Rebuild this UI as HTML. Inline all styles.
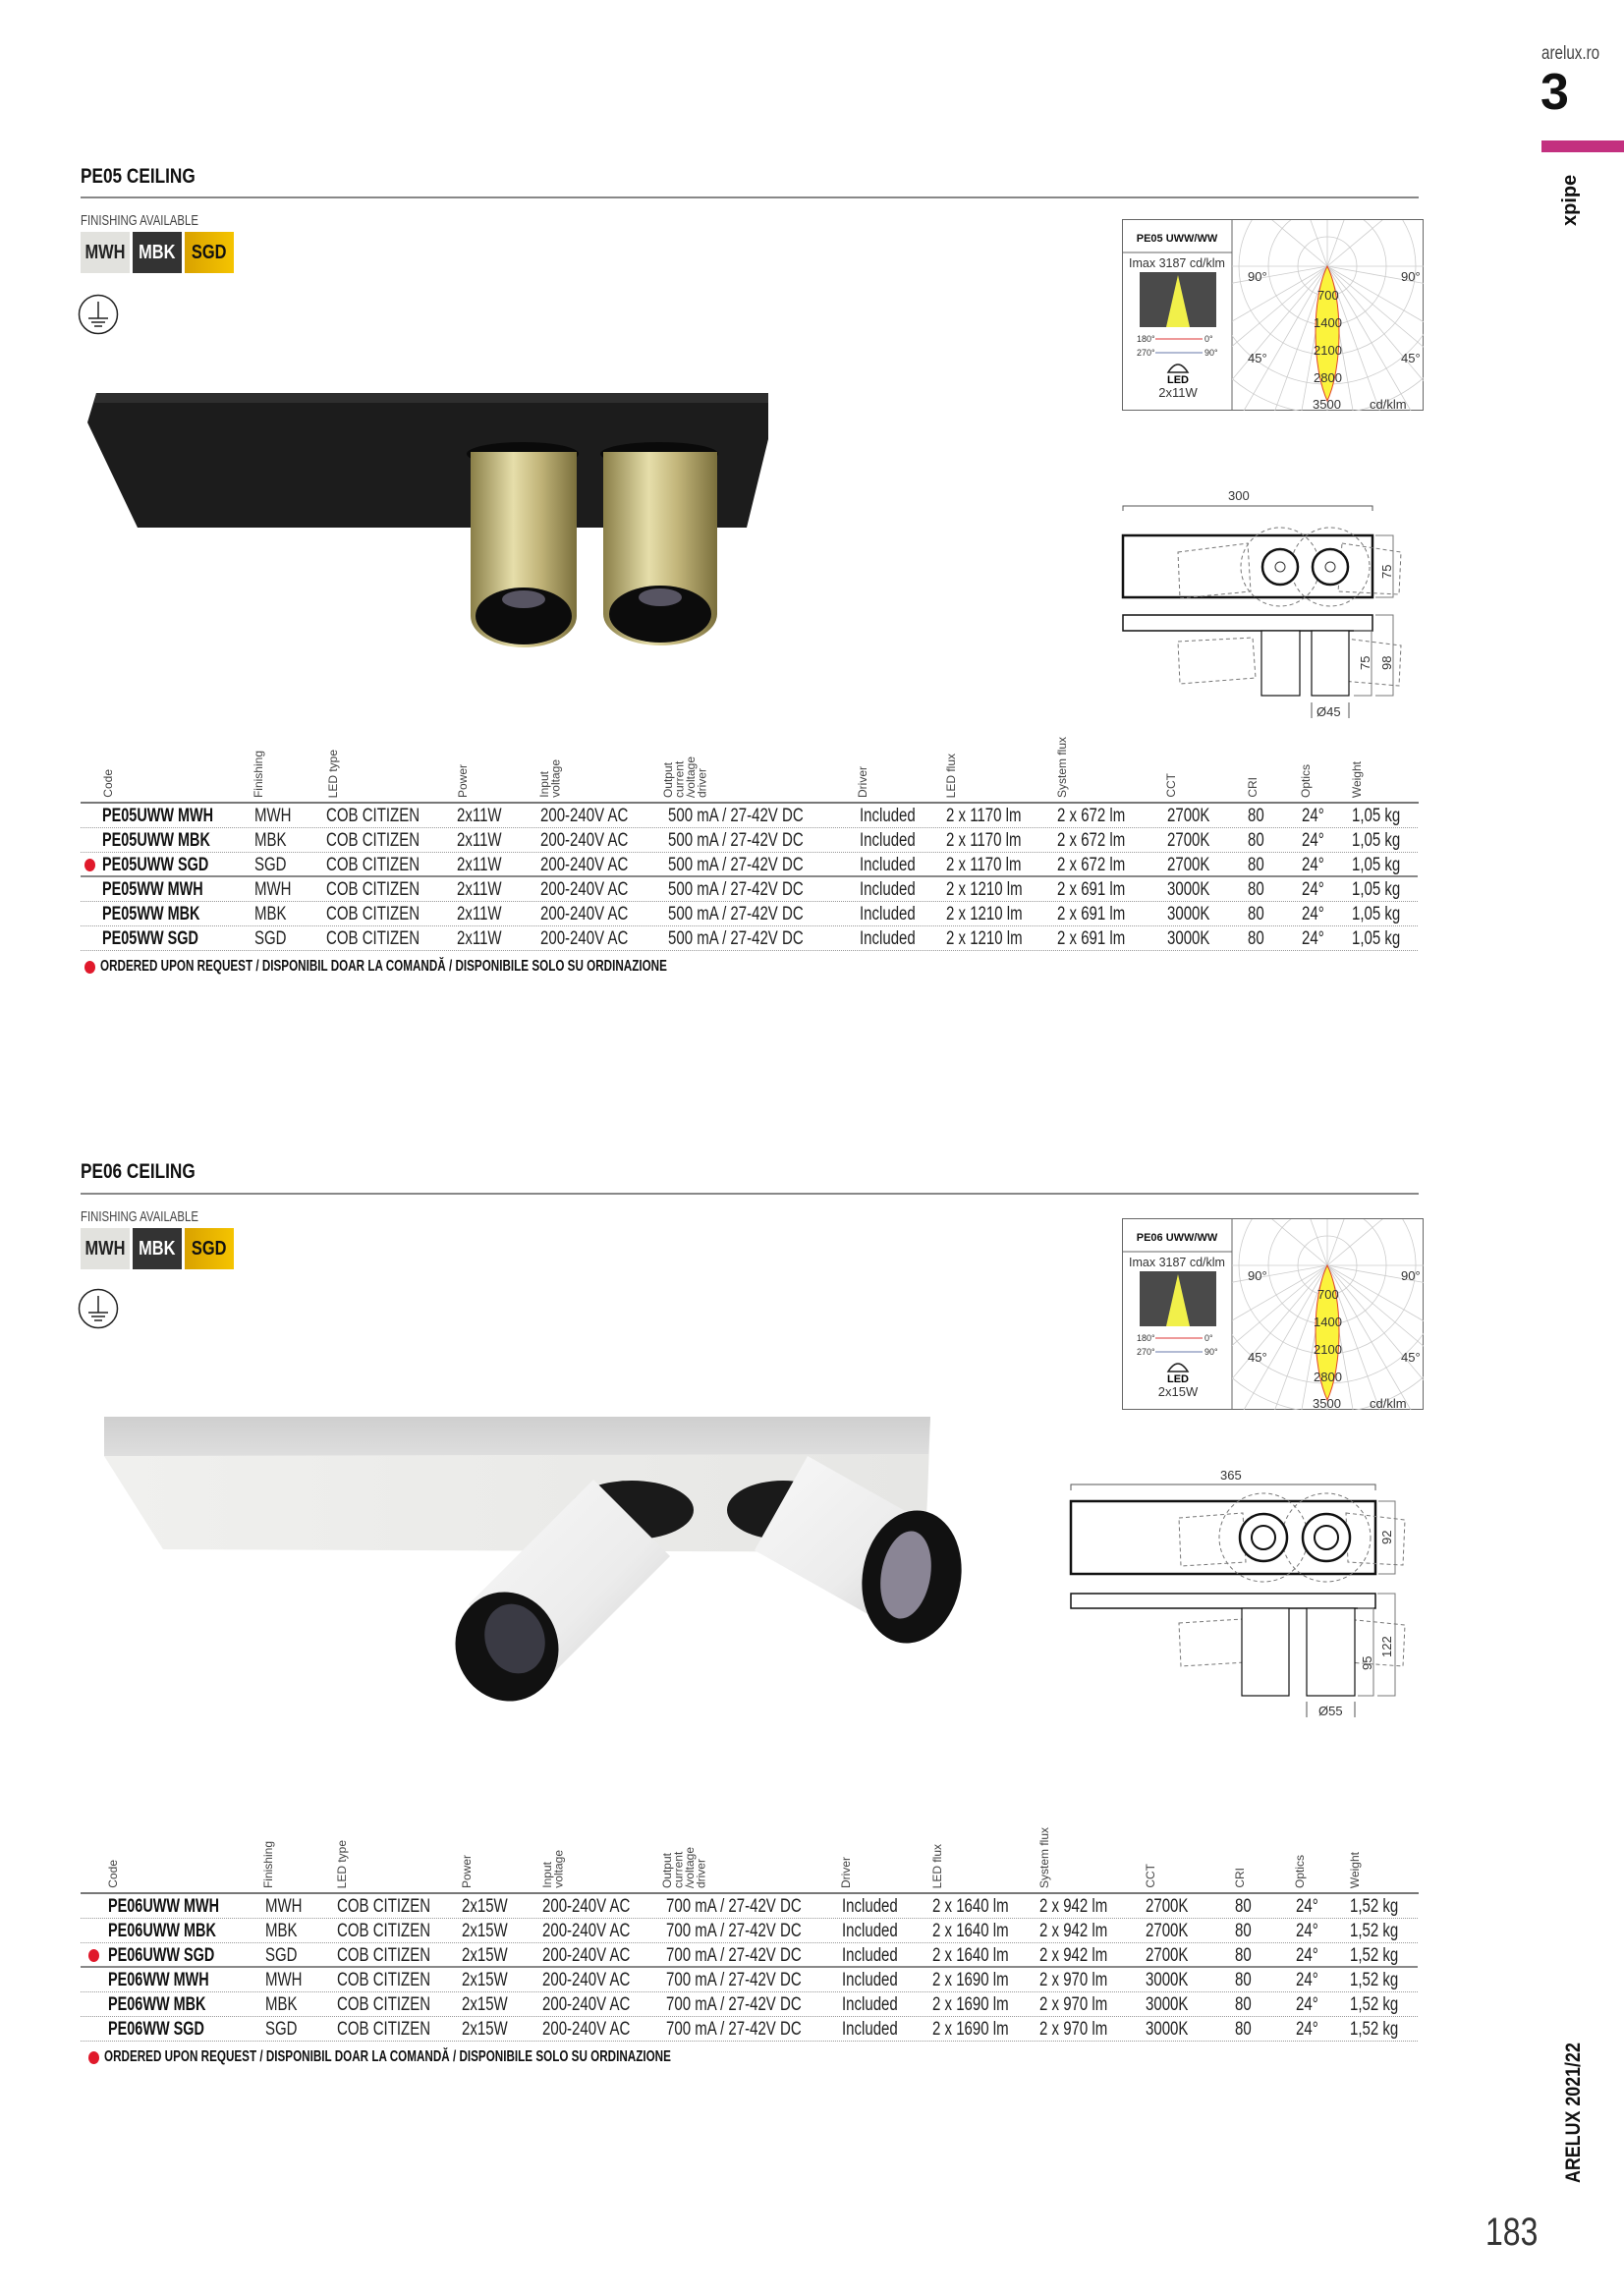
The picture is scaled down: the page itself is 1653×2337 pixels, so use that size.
<!DOCTYPE html>
<html><head><meta charset="utf-8">
<style>
*{margin:0;padding:0;box-sizing:border-box}
body{width:1653px;height:2337px;background:#fff;font-family:"Liberation Sans",sans-serif;color:#222;overflow:hidden}
#pg{position:relative;width:1653px;height:2337px}
.a{position:absolute;white-space:nowrap}
.n{transform:scaleX(.8);transform-origin:0 0}
.t{font-weight:bold;font-size:21px;color:#111;transform:scaleX(.82);transform-origin:0 0}
.hl{position:absolute;height:1.5px;background:#888}
.fin{font-size:15px;color:#444;transform:scaleX(.76);transform-origin:0 0}
.sw{position:absolute;height:42px;font-size:20px;line-height:42px;text-align:center;font-weight:bold}
.sw i{font-style:normal;display:inline-block;transform:scaleX(.82)}
.hd{position:absolute;writing-mode:vertical-rl;transform:rotate(180deg);font-size:12px;line-height:11.5px;color:#444}
.row{position:absolute;left:82px;width:1361px;height:25px;font-size:19px;line-height:25px;color:#222;border-bottom:1px dotted #999}
.row span{position:absolute;top:0;transform:scaleX(.79);transform-origin:0 0}
.row .c{font-weight:bold;color:#111;transform:scaleX(.76)}
.dot{position:absolute;width:11px;height:13px;border-radius:50%;background:#e0192b}
.note{font-size:16px;font-weight:bold;color:#111;transform:scaleX(.73);transform-origin:0 0}
</style></head><body><div id="pg">

<!-- side -->
<div class="a n" style="left:1569px;top:44px;font-size:19px;color:#444">arelux.ro</div>
<div class="a" style="left:1568px;top:64px;font-size:52px;font-weight:bold;color:#111">3</div>
<div class="a" style="left:1569px;top:143px;width:84px;height:12px;background:#c3307f"></div>
<div class="a" style="left:1587px;top:230px;font-size:20px;font-weight:bold;transform:rotate(-90deg);transform-origin:left top;color:#111">xpipe</div>
<div class="a" style="left:1590px;top:2222px;transform:rotate(-90deg);transform-origin:left top"><div style="font-size:21px;font-weight:bold;color:#111;transform:scaleX(.85);transform-origin:0 0">ARELUX 2021/22</div></div>
<div class="a n" style="left:1512px;top:2250px;font-size:40px;color:#333">183</div>

<!-- ================= SECTION 1 ================= -->
<div class="a t" style="left:82px;top:168px">PE05 CEILING</div>
<div class="hl" style="left:82px;top:200px;width:1362px"></div>
<div class="a fin" style="left:82px;top:216px">FINISHING AVAILABLE</div>
<div class="sw" style="left:82px;top:236px;width:50px;background:#e2e2de;color:#222"><i>MWH</i></div>
<div class="sw" style="left:135px;top:236px;width:50px;background:#333;color:#fff"><i>MBK</i></div>
<div class="sw" style="left:188px;top:236px;width:50px;background:linear-gradient(90deg,#d9a200,#f5c400);color:#111"><i>SGD</i></div>
<svg class="a" style="left:79px;top:299px" width="44" height="44"><circle cx="21" cy="21" r="19.5" fill="none" stroke="#222" stroke-width="1.5"/><path d="M21 8V25M11 25H31M14 29H28M17 33H25" stroke="#222" stroke-width="1.5" fill="none"/></svg>

<!-- product 1 -->
<svg class="a" style="left:0;top:380px" width="820" height="300">
<defs>
<linearGradient id="gold" x1="0" x2="1"><stop offset="0" stop-color="#8a7f48"/><stop offset=".4" stop-color="#e6deaa"/><stop offset=".65" stop-color="#c2b57a"/><stop offset="1" stop-color="#7a6f3c"/></linearGradient>
</defs>
<polygon points="98,20 782,20 782,67 760,157 140,157 89,50" fill="#1c1c1c"/>
<polygon points="98,20 782,20 782,30 96,30" fill="#2e2e2e"/>
<ellipse cx="532" cy="82" rx="57" ry="12" fill="#0a0a0a"/>
<ellipse cx="671" cy="82" rx="60" ry="12" fill="#0a0a0a"/>
<rect x="479" y="80" width="108" height="167" fill="url(#gold)"/>
<ellipse cx="533" cy="247" rx="54" ry="32" fill="url(#gold)"/>
<ellipse cx="533" cy="247" rx="49" ry="29" fill="#0c0c0c"/>
<ellipse cx="533" cy="230" rx="22" ry="9" fill="#6a6678" opacity=".8"/>
<rect x="614" y="80" width="116" height="165" fill="url(#gold)"/>
<ellipse cx="672" cy="245" rx="58" ry="32" fill="url(#gold)"/>
<ellipse cx="672" cy="245" rx="52" ry="29" fill="#0c0c0c"/>
<ellipse cx="672" cy="228" rx="22" ry="9" fill="#6a6678" opacity=".8"/>
</svg>

<!-- polar 1 -->
<svg class="a" style="left:1142px;top:223px" width="308" height="196" font-family="Liberation Sans, sans-serif">
<defs><clipPath id="pc1"><rect x="112" y="1" width="195" height="194"/></clipPath></defs>
<rect x="0.5" y="0.5" width="306" height="194" fill="#fff" stroke="#666"/>
<line x1="112" y1="0" x2="112" y2="195" stroke="#666"/>
<line x1="0" y1="34" x2="112" y2="34" stroke="#666"/>
<g clip-path="url(#pc1)" stroke="#ccc" fill="none" stroke-width="0.8">
<circle cx="209" cy="48" r="30"/><circle cx="209" cy="48" r="60"/><circle cx="209" cy="48" r="90"/><circle cx="209" cy="48" r="120"/><circle cx="209" cy="48" r="150"/><circle cx="209" cy="48" r="180"/>
<g id="rays1"><line x1="209" y1="48" x2="209" y2="300"/><line x1="209" y1="48" x2="253" y2="296"/><line x1="209" y1="48" x2="295" y2="285"/><line x1="209" y1="48" x2="335" y2="266"/><line x1="209" y1="48" x2="371" y2="241"/><line x1="209" y1="48" x2="402" y2="210"/><line x1="209" y1="48" x2="427" y2="174"/><line x1="209" y1="48" x2="457" y2="92"/><line x1="209" y1="48" x2="459" y2="48"/><line x1="209" y1="48" x2="165" y2="296"/><line x1="209" y1="48" x2="123" y2="285"/><line x1="209" y1="48" x2="83" y2="266"/><line x1="209" y1="48" x2="47" y2="241"/><line x1="209" y1="48" x2="16" y2="210"/><line x1="209" y1="48" x2="-9" y2="174"/><line x1="209" y1="48" x2="-39" y2="92"/><line x1="209" y1="48" x2="-41" y2="48"/><line x1="209" y1="48" x2="209" y2="-200"/><line x1="209" y1="48" x2="295" y2="-189"/><line x1="209" y1="48" x2="123" y2="-189"/><line x1="209" y1="48" x2="402" y2="-114"/><line x1="209" y1="48" x2="16" y2="-114"/></g>
</g>
<path d="M209 48 C193 80 193 150 209 185 C225 150 225 80 209 48Z" fill="#fbf33c" stroke="#e0442a" stroke-width="1"/>
<g font-size="13" fill="#333">
<text x="128" y="63">90°</text><text x="284" y="63">90°</text><text x="128" y="146">45°</text><text x="284" y="146">45°</text>
<text x="199" y="82">700</text><text x="195" y="110">1400</text><text x="195" y="138">2100</text><text x="195" y="166">2800</text><text x="194" y="193">3500</text><text x="252" y="193">cd/klm</text>
<text x="56" y="23" font-size="11" font-weight="bold" text-anchor="middle" fill="#111">PE05 UWW/WW</text>
<text x="56" y="49" font-size="12.5" text-anchor="middle">Imax 3187 cd/klm</text>
</g>
<rect x="18" y="54" width="78" height="56" fill="#4a4a4a"/>
<polygon points="57,57 45,110 69,110" fill="#f1f04a"/>
<g font-size="9" fill="#333"><text x="15" y="125">180°</text><text x="84" y="125">0°</text><text x="15" y="139">270°</text><text x="84" y="139">90°</text></g>
<line x1="34" y1="122" x2="82" y2="122" stroke="#d33" stroke-width="1"/>
<line x1="34" y1="136" x2="82" y2="136" stroke="#67a" stroke-width="1"/>
<path d="M47 156 Q57 140 67 156Z" fill="none" stroke="#222" stroke-width="1.5"/>
<text x="57" y="167" font-size="11" font-weight="bold" text-anchor="middle">LED</text>
<text x="57" y="181" font-size="13" text-anchor="middle" fill="#333">2x11W</text>
</svg>

<!-- dims 1 -->
<svg class="a" style="left:1130px;top:495px" width="320" height="245" font-family="Liberation Sans, sans-serif" font-size="13" fill="#333">
<text x="120" y="14">300</text>
<path d="M13 25V20H267V25" stroke="#555" fill="none"/>
<rect x="13" y="50" width="254" height="63" fill="#fff" stroke="#111" stroke-width="2.5"/>
<g stroke="#777" fill="none" stroke-dasharray="4,3"><circle cx="173" cy="82" r="40"/><circle cx="224" cy="82" r="40"/><polygon points="69,67 140,58 143,107 71,114"/><polygon points="236,58 296,67 294,110 232,107"/>
<polygon points="69,158 145,154 148,195 71,201"/><polygon points="232,154 296,162 294,203 236,198"/></g>
<circle cx="173" cy="82" r="18" fill="#fff" stroke="#111" stroke-width="2.5"/><circle cx="173" cy="82" r="5" fill="none" stroke="#333"/>
<circle cx="224" cy="82" r="18" fill="#fff" stroke="#111" stroke-width="2.5"/><circle cx="224" cy="82" r="5" fill="none" stroke="#333"/>
<path d="M270 50H288V113H270" stroke="#777" fill="none"/>
<text transform="translate(286,94) rotate(-90)">75</text>
<rect x="13" y="131" width="254" height="16" fill="#fff" stroke="#111" stroke-width="1.5"/>
<rect x="154" y="147" width="39" height="66" fill="#fff" stroke="#111" stroke-width="1.2"/>
<rect x="205" y="147" width="38" height="66" fill="#fff" stroke="#111" stroke-width="1.2"/>
<path d="M248 147H266V213H248M270 131H288V213H270" stroke="#777" fill="none"/>
<text transform="translate(264,187) rotate(-90)">75</text><text transform="translate(286,187) rotate(-90)">98</text>
<path d="M205 220V236M243 220V236" stroke="#555"/>
<text x="210" y="234">Ø45</text>
</svg>

<!-- table 1 headers -->
<div class="hd" style="left:105px;bottom:1525px">Code</div>
<div class="hd" style="left:258px;bottom:1525px">Finishing</div>
<div class="hd" style="left:334px;bottom:1525px">LED type</div>
<div class="hd" style="left:466px;bottom:1525px">Power</div>
<div class="hd" style="left:549px;bottom:1525px">Input<br>voltage</div>
<div class="hd" style="left:675px;bottom:1525px">Output<br>current<br>/voltage<br>driver</div>
<div class="hd" style="left:873px;bottom:1525px">Driver</div>
<div class="hd" style="left:963px;bottom:1525px">LED flux</div>
<div class="hd" style="left:1076px;bottom:1525px">System flux</div>
<div class="hd" style="left:1187px;bottom:1525px">CCT</div>
<div class="hd" style="left:1270px;bottom:1525px">CRI</div>
<div class="hd" style="left:1324px;bottom:1525px">Optics</div>
<div class="hd" style="left:1376px;bottom:1525px">Weight</div>
<div class="hl" style="left:82px;top:816px;width:1362px;height:2px;background:#777"></div>

<div class="row" style="top:818px"><span class="c" style="left:22px">PE05UWW MWH</span><span style="left:177px">MWH</span><span style="left:250px">COB CITIZEN</span><span style="left:383px">2x11W</span><span style="left:468px">200-240V AC</span><span style="left:598px">500 mA / 27-42V DC</span><span style="left:793px">Included</span><span style="left:881px">2 x 1170 lm</span><span style="left:994px">2 x 672 lm</span><span style="left:1106px">2700K</span><span style="left:1188px">80</span><span style="left:1243px">24°</span><span style="left:1294px">1,05 kg</span></div>
<div class="row" style="top:843px"><span class="c" style="left:22px">PE05UWW MBK</span><span style="left:177px">MBK</span><span style="left:250px">COB CITIZEN</span><span style="left:383px">2x11W</span><span style="left:468px">200-240V AC</span><span style="left:598px">500 mA / 27-42V DC</span><span style="left:793px">Included</span><span style="left:881px">2 x 1170 lm</span><span style="left:994px">2 x 672 lm</span><span style="left:1106px">2700K</span><span style="left:1188px">80</span><span style="left:1243px">24°</span><span style="left:1294px">1,05 kg</span></div>
<div class="row" style="top:868px;border-bottom:2px solid #888"><span class="c" style="left:22px">PE05UWW SGD</span><span style="left:177px">SGD</span><span style="left:250px">COB CITIZEN</span><span style="left:383px">2x11W</span><span style="left:468px">200-240V AC</span><span style="left:598px">500 mA / 27-42V DC</span><span style="left:793px">Included</span><span style="left:881px">2 x 1170 lm</span><span style="left:994px">2 x 672 lm</span><span style="left:1106px">2700K</span><span style="left:1188px">80</span><span style="left:1243px">24°</span><span style="left:1294px">1,05 kg</span></div>
<div class="dot" style="left:86px;top:874px"></div>
<div class="row" style="top:893px"><span class="c" style="left:22px">PE05WW MWH</span><span style="left:177px">MWH</span><span style="left:250px">COB CITIZEN</span><span style="left:383px">2x11W</span><span style="left:468px">200-240V AC</span><span style="left:598px">500 mA / 27-42V DC</span><span style="left:793px">Included</span><span style="left:881px">2 x 1210 lm</span><span style="left:994px">2 x 691 lm</span><span style="left:1106px">3000K</span><span style="left:1188px">80</span><span style="left:1243px">24°</span><span style="left:1294px">1,05 kg</span></div>
<div class="row" style="top:918px"><span class="c" style="left:22px">PE05WW MBK</span><span style="left:177px">MBK</span><span style="left:250px">COB CITIZEN</span><span style="left:383px">2x11W</span><span style="left:468px">200-240V AC</span><span style="left:598px">500 mA / 27-42V DC</span><span style="left:793px">Included</span><span style="left:881px">2 x 1210 lm</span><span style="left:994px">2 x 691 lm</span><span style="left:1106px">3000K</span><span style="left:1188px">80</span><span style="left:1243px">24°</span><span style="left:1294px">1,05 kg</span></div>
<div class="row" style="top:943px"><span class="c" style="left:22px">PE05WW SGD</span><span style="left:177px">SGD</span><span style="left:250px">COB CITIZEN</span><span style="left:383px">2x11W</span><span style="left:468px">200-240V AC</span><span style="left:598px">500 mA / 27-42V DC</span><span style="left:793px">Included</span><span style="left:881px">2 x 1210 lm</span><span style="left:994px">2 x 691 lm</span><span style="left:1106px">3000K</span><span style="left:1188px">80</span><span style="left:1243px">24°</span><span style="left:1294px">1,05 kg</span></div>
<div class="dot" style="left:86px;top:978px"></div>
<div class="a note" style="left:102px;top:975px">ORDERED UPON REQUEST / DISPONIBIL DOAR LA COMANDĂ / DISPONIBILE SOLO SU ORDINAZIONE</div>

<!-- ================= SECTION 2 ================= -->
<div class="a t" style="left:82px;top:1181px">PE06 CEILING</div>
<div class="hl" style="left:82px;top:1214px;width:1362px"></div>
<div class="a fin" style="left:82px;top:1230px">FINISHING AVAILABLE</div>
<div class="sw" style="left:82px;top:1250px;width:50px;background:#e2e2de;color:#222"><i>MWH</i></div>
<div class="sw" style="left:135px;top:1250px;width:50px;background:#333;color:#fff"><i>MBK</i></div>
<div class="sw" style="left:188px;top:1250px;width:50px;background:linear-gradient(90deg,#d9a200,#f5c400);color:#111"><i>SGD</i></div>
<svg class="a" style="left:79px;top:1311px" width="44" height="44"><circle cx="21" cy="21" r="19.5" fill="none" stroke="#222" stroke-width="1.5"/><path d="M21 8V25M11 25H31M14 29H28M17 33H25" stroke="#222" stroke-width="1.5" fill="none"/></svg>

<!-- product 2 -->
<svg class="a" style="left:0;top:1420px" width="1000" height="330">
<defs>
<linearGradient id="wt" x1="0" y1="0" x2="0" y2="1"><stop offset="0" stop-color="#cfcfcf"/><stop offset="1" stop-color="#dedede"/></linearGradient>
<linearGradient id="wf" x1="0" y1="0" x2="1" y2="0"><stop offset="0" stop-color="#f0f0ee"/><stop offset="1" stop-color="#e6e6e4"/></linearGradient>
<linearGradient id="tb" x1="0" y1="0" x2="1" y2="1"><stop offset="0" stop-color="#f8f8f8"/><stop offset=".6" stop-color="#ececec"/><stop offset="1" stop-color="#cfcfcf"/></linearGradient>
</defs>
<polygon points="106,22 947,22 944,105 941,160 166,157 106,62" fill="url(#wf)"/>
<polygon points="106,22 947,22 945,60 106,62" fill="url(#wt)"/>
<ellipse cx="643" cy="117" rx="63" ry="30" fill="#1a1a1a"/>
<ellipse cx="797" cy="117" rx="57" ry="30" fill="#1a1a1a"/>
<polygon points="682,164 604,86 477,213 555,291" fill="url(#tb)"/>
<polygon points="768,158 822,62 955,137 901,233" fill="url(#tb)"/>
<ellipse cx="516" cy="256" rx="52" ry="56" fill="#111" transform="rotate(-20 516 256)"/>
<ellipse cx="524" cy="248" rx="30" ry="36" fill="#3a3a44" transform="rotate(-20 524 248)"/>
<ellipse cx="928" cy="185" rx="50" ry="68" fill="#111" transform="rotate(10 928 185)"/>
<ellipse cx="922" cy="183" rx="25" ry="45" fill="#8a8595" transform="rotate(10 922 183)"/>
</svg>

<!-- polar 2 -->
<svg class="a" style="left:1142px;top:1240px" width="308" height="196" font-family="Liberation Sans, sans-serif">
<defs><clipPath id="pc2"><rect x="112" y="1" width="195" height="194"/></clipPath></defs>
<rect x="0.5" y="0.5" width="306" height="194" fill="#fff" stroke="#666"/>
<line x1="112" y1="0" x2="112" y2="195" stroke="#666"/>
<line x1="0" y1="34" x2="112" y2="34" stroke="#666"/>
<g clip-path="url(#pc2)" stroke="#ccc" fill="none" stroke-width="0.8">
<circle cx="209" cy="48" r="30"/><circle cx="209" cy="48" r="60"/><circle cx="209" cy="48" r="90"/><circle cx="209" cy="48" r="120"/><circle cx="209" cy="48" r="150"/><circle cx="209" cy="48" r="180"/>
<use href="#rays1"/>
</g>
<path d="M209 48 C193 80 193 150 209 185 C225 150 225 80 209 48Z" fill="#fbf33c" stroke="#e0442a" stroke-width="1"/>
<g font-size="13" fill="#333">
<text x="128" y="63">90°</text><text x="284" y="63">90°</text><text x="128" y="146">45°</text><text x="284" y="146">45°</text>
<text x="199" y="82">700</text><text x="195" y="110">1400</text><text x="195" y="138">2100</text><text x="195" y="166">2800</text><text x="194" y="193">3500</text><text x="252" y="193">cd/klm</text>
<text x="56" y="23" font-size="11" font-weight="bold" text-anchor="middle" fill="#111">PE06 UWW/WW</text>
<text x="56" y="49" font-size="12.5" text-anchor="middle">Imax 3187 cd/klm</text>
</g>
<rect x="18" y="54" width="78" height="56" fill="#4a4a4a"/>
<polygon points="57,57 45,110 69,110" fill="#f1f04a"/>
<g font-size="9" fill="#333"><text x="15" y="125">180°</text><text x="84" y="125">0°</text><text x="15" y="139">270°</text><text x="84" y="139">90°</text></g>
<line x1="34" y1="122" x2="82" y2="122" stroke="#d33" stroke-width="1"/>
<line x1="34" y1="136" x2="82" y2="136" stroke="#67a" stroke-width="1"/>
<path d="M47 156 Q57 140 67 156Z" fill="none" stroke="#222" stroke-width="1.5"/>
<text x="57" y="167" font-size="11" font-weight="bold" text-anchor="middle">LED</text>
<text x="57" y="181" font-size="13" text-anchor="middle" fill="#333">2x15W</text>
</svg>

<!-- dims 2 -->
<svg class="a" style="left:1080px;top:1490px" width="370" height="265" font-family="Liberation Sans, sans-serif" font-size="13" fill="#333">
<text x="162" y="16">365</text>
<path d="M10 27V21H320V27" stroke="#555" fill="none"/>
<rect x="10" y="38" width="310" height="74" fill="#fff" stroke="#111" stroke-width="2.5"/>
<g stroke="#777" fill="none" stroke-dasharray="4,3"><circle cx="206" cy="75" r="45"/><circle cx="270" cy="75" r="45"/><polygon points="120,55 185,50 188,100 122,104"/><polygon points="290,50 350,57 348,103 292,100"/>
<polygon points="120,162 185,158 188,202 122,206"/><polygon points="290,158 350,164 348,206 292,202"/></g>
<circle cx="206" cy="75" r="24" fill="#fff" stroke="#111" stroke-width="2.5"/><circle cx="206" cy="75" r="12" fill="none" stroke="#111" stroke-width="2"/>
<circle cx="270" cy="75" r="24" fill="#fff" stroke="#111" stroke-width="2.5"/><circle cx="270" cy="75" r="12" fill="none" stroke="#111" stroke-width="2"/>
<path d="M323 38H340V112H323" stroke="#777" fill="none"/>
<text transform="translate(336,82) rotate(-90)">92</text>
<rect x="10" y="132" width="310" height="15" fill="#fff" stroke="#111" stroke-width="1.5"/>
<rect x="184" y="147" width="48" height="89" fill="#fff" stroke="#111" stroke-width="1.2"/>
<rect x="250" y="147" width="49" height="89" fill="#fff" stroke="#111" stroke-width="1.2"/>
<path d="M302 147H318V236H302M322 132H340V236H322" stroke="#777" fill="none"/>
<text transform="translate(316,210) rotate(-90)">95</text><text transform="translate(336,197) rotate(-90)">122</text>
<path d="M250 242V258M299 242V258" stroke="#555"/>
<text x="262" y="256">Ø55</text>
</svg>

<!-- table 2 headers -->
<div class="hd" style="left:110px;bottom:415px">Code</div>
<div class="hd" style="left:268px;bottom:415px">Finishing</div>
<div class="hd" style="left:343px;bottom:415px">LED type</div>
<div class="hd" style="left:470px;bottom:415px">Power</div>
<div class="hd" style="left:552px;bottom:415px">Input<br>voltage</div>
<div class="hd" style="left:674px;bottom:415px">Output<br>current<br>/voltage<br>driver</div>
<div class="hd" style="left:856px;bottom:415px">Driver</div>
<div class="hd" style="left:949px;bottom:415px">LED flux</div>
<div class="hd" style="left:1058px;bottom:415px">System flux</div>
<div class="hd" style="left:1166px;bottom:415px">CCT</div>
<div class="hd" style="left:1257px;bottom:415px">CRI</div>
<div class="hd" style="left:1318px;bottom:415px">Optics</div>
<div class="hd" style="left:1374px;bottom:415px">Weight</div>
<div class="hl" style="left:82px;top:1926px;width:1362px;height:2px;background:#777"></div>

<div class="row" style="top:1928px"><span class="c" style="left:28px">PE06UWW MWH</span><span style="left:188px">MWH</span><span style="left:261px">COB CITIZEN</span><span style="left:388px">2x15W</span><span style="left:470px">200-240V AC</span><span style="left:596px">700 mA / 27-42V DC</span><span style="left:775px">Included</span><span style="left:867px">2 x 1640 lm</span><span style="left:976px">2 x 942 lm</span><span style="left:1084px">2700K</span><span style="left:1175px">80</span><span style="left:1237px">24°</span><span style="left:1292px">1,52 kg</span></div>
<div class="row" style="top:1953px"><span class="c" style="left:28px">PE06UWW MBK</span><span style="left:188px">MBK</span><span style="left:261px">COB CITIZEN</span><span style="left:388px">2x15W</span><span style="left:470px">200-240V AC</span><span style="left:596px">700 mA / 27-42V DC</span><span style="left:775px">Included</span><span style="left:867px">2 x 1640 lm</span><span style="left:976px">2 x 942 lm</span><span style="left:1084px">2700K</span><span style="left:1175px">80</span><span style="left:1237px">24°</span><span style="left:1292px">1,52 kg</span></div>
<div class="row" style="top:1978px;border-bottom:2px solid #888"><span class="c" style="left:28px">PE06UWW SGD</span><span style="left:188px">SGD</span><span style="left:261px">COB CITIZEN</span><span style="left:388px">2x15W</span><span style="left:470px">200-240V AC</span><span style="left:596px">700 mA / 27-42V DC</span><span style="left:775px">Included</span><span style="left:867px">2 x 1640 lm</span><span style="left:976px">2 x 942 lm</span><span style="left:1084px">2700K</span><span style="left:1175px">80</span><span style="left:1237px">24°</span><span style="left:1292px">1,52 kg</span></div>
<div class="dot" style="left:90px;top:1984px"></div>
<div class="row" style="top:2003px"><span class="c" style="left:28px">PE06WW MWH</span><span style="left:188px">MWH</span><span style="left:261px">COB CITIZEN</span><span style="left:388px">2x15W</span><span style="left:470px">200-240V AC</span><span style="left:596px">700 mA / 27-42V DC</span><span style="left:775px">Included</span><span style="left:867px">2 x 1690 lm</span><span style="left:976px">2 x 970 lm</span><span style="left:1084px">3000K</span><span style="left:1175px">80</span><span style="left:1237px">24°</span><span style="left:1292px">1,52 kg</span></div>
<div class="row" style="top:2028px"><span class="c" style="left:28px">PE06WW MBK</span><span style="left:188px">MBK</span><span style="left:261px">COB CITIZEN</span><span style="left:388px">2x15W</span><span style="left:470px">200-240V AC</span><span style="left:596px">700 mA / 27-42V DC</span><span style="left:775px">Included</span><span style="left:867px">2 x 1690 lm</span><span style="left:976px">2 x 970 lm</span><span style="left:1084px">3000K</span><span style="left:1175px">80</span><span style="left:1237px">24°</span><span style="left:1292px">1,52 kg</span></div>
<div class="row" style="top:2053px"><span class="c" style="left:28px">PE06WW SGD</span><span style="left:188px">SGD</span><span style="left:261px">COB CITIZEN</span><span style="left:388px">2x15W</span><span style="left:470px">200-240V AC</span><span style="left:596px">700 mA / 27-42V DC</span><span style="left:775px">Included</span><span style="left:867px">2 x 1690 lm</span><span style="left:976px">2 x 970 lm</span><span style="left:1084px">3000K</span><span style="left:1175px">80</span><span style="left:1237px">24°</span><span style="left:1292px">1,52 kg</span></div>
<div class="dot" style="left:90px;top:2088px"></div>
<div class="a note" style="left:106px;top:2085px">ORDERED UPON REQUEST / DISPONIBIL DOAR LA COMANDĂ / DISPONIBILE SOLO SU ORDINAZIONE</div>

</div></body></html>
